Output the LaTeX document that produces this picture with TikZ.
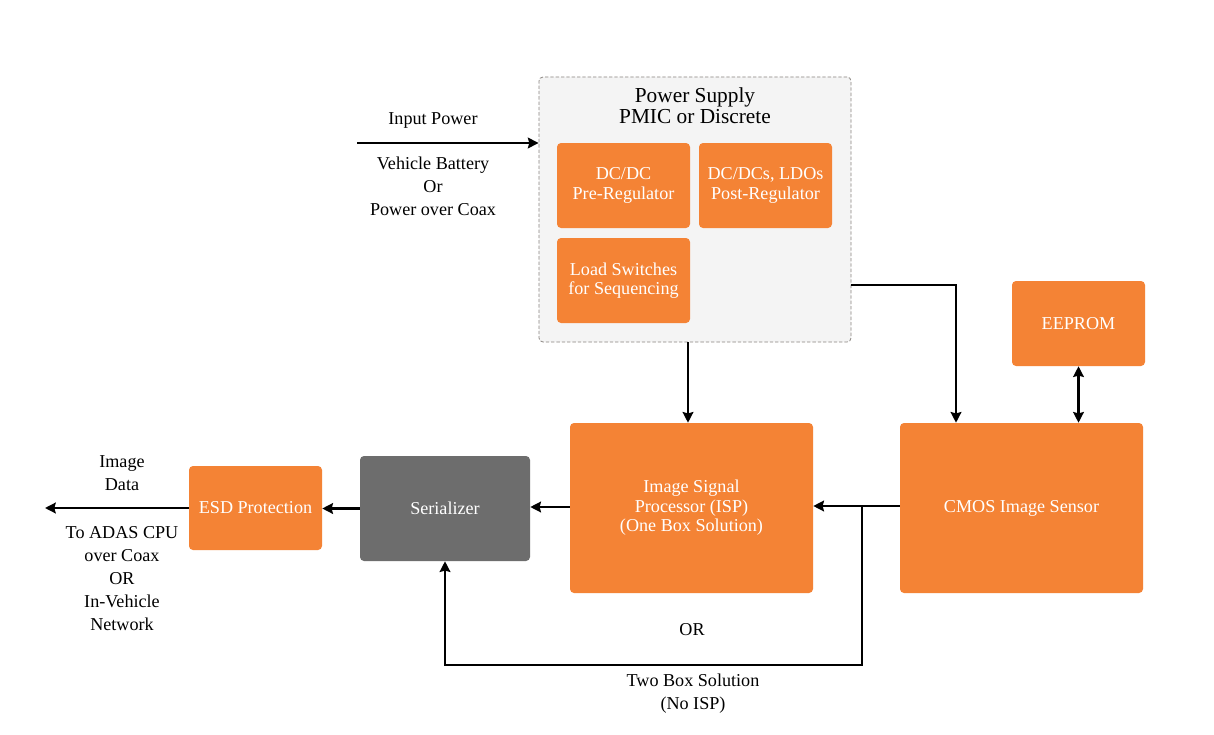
\documentclass[tikz,border=0pt]{standalone}
\usepackage{fontspec}
\setmainfont{Liberation Serif}
\usetikzlibrary{arrows.meta}
\definecolor{org}{HTML}{F48335}
\definecolor{sergray}{HTML}{6D6D6D}
\definecolor{psfill}{HTML}{F4F4F4}
\definecolor{psdraw}{HTML}{8A8580}
\tikzset{
  sz/.style 2 args={minimum width=#1*0.75pt, minimum height=#2*0.75pt},
  obox/.style={fill=org, draw=none, rounded corners=3pt, text=white, align=center, inner sep=0pt,
     font=\fontsize{13.6}{14.6}\selectfont},
  gbox/.style={obox, fill=sergray},
  psbox/.style={fill=psfill, draw=psdraw, dash pattern=on 2.5pt off 1.5pt, line width=0.6pt, rounded corners=3pt, inner sep=0pt},
  lbl/.style={align=center, text=black, inner sep=0pt, font=\fontsize{13.6}{17.25}\selectfont},
  ttl/.style={align=center, text=black, inner sep=0pt, font=\fontsize{16}{15.75}\selectfont},
  tip/.style={Stealth[length=8pt,width=8pt,inset=1pt]},
  arr/.style={line width=1.9pt, -{Stealth[length=8pt,width=8pt,inset=1pt]}},
  darr/.style={line width=1.9pt, {Stealth[length=8pt,width=8pt,inset=1pt]}-{Stealth[length=8pt,width=8pt,inset=1pt]}},
}
\begin{document}
\begin{tikzpicture}[x=0.75pt,y=-0.75pt]
\useasboundingbox (0,0) rectangle (1214,735);
\fill[white] (0,0) rectangle (1214,735);

% Power supply container
\node[psbox, sz={312}{265}] (ps) at (695,209.5) {};
\node[ttl] (pstitle) at (695,106) {Power Supply\\PMIC or Discrete};
\node[obox, sz={133}{85}] (pre) at (623.5,185.5) {DC/DC\\Pre-Regulator};
\node[obox, sz={133}{85}] (post) at (765.5,185.5) {DC/DCs, LDOs\\Post-Regulator};
\node[obox, sz={133}{85}] (load) at (623.5,280.5) {Load Switches\\for Sequencing};

% Main blocks
\node[obox, sz={133}{85}] (eeprom) at (1078.5,323.5) {EEPROM};
\node[obox, sz={243}{170}] (cmos) at (1021.5,508) {CMOS Image Sensor};
\node[obox, sz={243}{170}] (isp) at (691.5,508) {Image Signal\\Processor (ISP)\\(One Box Solution)};
\node[gbox, sz={170}{105}] (ser) at (445,508.5) {Serializer};
\node[obox, sz={133}{84}] (esd) at (255.5,508) {ESD Protection};

% Labels
\node[lbl] (inlbl) at (433,120) {Input Power};
\node[lbl] (vbat) at (433,186) {Vehicle Battery\\Or\\Power over Coax};
\node[lbl] (imgdata) at (122,473) {Image\\Data};
\node[lbl] (toadas) at (122,579) {To ADAS CPU\\over Coax\\OR\\In-Vehicle\\Network};
\node[lbl] (orlbl) at (692,630) {OR};
\node[lbl] (twobox) at (693,693.5) {Two Box Solution\\(No ISP)};

% Coordinates
\coordinate (inp) at (357,143);
\coordinate (outp) at (45,508);
\coordinate (px) at (688,0);
\coordinate (pc) at (956,285);
\coordinate (j) at (862,506);
\coordinate (lb) at (862,665);

% Connectors
\draw[arr] (inp) -- (inp -| ps.west);
\draw[arr] (px |- ps.south) -- (px |- isp.north);
\draw[arr] (pc -| ps.east) -- (pc) -- (pc |- cmos.north);
\draw[darr] (eeprom.south) -- (eeprom.south |- cmos.north);
\draw[arr] (j -| cmos.west) -- (j -| isp.east);
\draw[arr] (j) -- (lb) -| (ser.south);
\draw[arr] (isp.west |- 0,507) -- (ser.east |- 0,507);
\draw[arr] (ser.west) -- (ser.west -| esd.east);
\draw[arr] (esd.west) -- (outp);
\end{tikzpicture}
\end{document}
